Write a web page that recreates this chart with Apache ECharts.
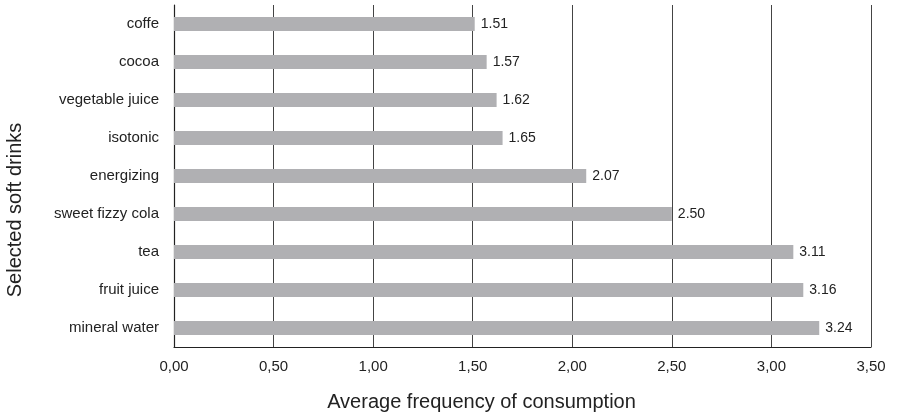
<!DOCTYPE html>
<html><head><meta charset="utf-8">
<script src="https://cdn.jsdelivr.net/npm/echarts@6/dist/echarts.min.js"></script>
<style>html,body{margin:0;padding:0;background:#fff}#c{width:897px;height:417px}</style>
</head><body><div id="c"></div>
<script>
const categories = ["mineral water","fruit juice","tea","sweet fizzy cola","energizing","isotonic","vegetable juice","cocoa","coffe"];
const values = [3.24,3.16,3.11,2.50,2.07,1.65,1.62,1.57,1.51];
const xTitle = "Average frequency of consumption";
const yTitle = "Selected soft drinks";

const chart = echarts.init(document.getElementById('c'));
const font = "'Liberation Sans', Arial, Helvetica, sans-serif";
chart.setOption({
  animation:false,
  grid:{left:174, right:26, top:5, bottom:70, containLabel:false, outerBoundsMode:'none'},
  xAxis:{
    type:'value', min:0, max:3.5, interval:0.5,
    name:xTitle, nameLocation:'middle', nameGap:45,
    nameTextStyle:{fontFamily:font,fontSize:20,color:'#222',padding:[0,82,0,0]},
    axisLine:{show:true,lineStyle:{color:'#222',width:1.2}},
    axisTick:{show:false},
    axisLabel:{fontFamily:font,fontSize:15,color:'#222',margin:12,
      formatter:v=>v.toFixed(2).replace('.',',')},
    splitLine:{show:true,lineStyle:{color:'#444',width:1}}
  },
  yAxis:{
    type:'category', data:categories,
    name:yTitle, nameLocation:'middle', nameGap:149, nameRotate:90,
    nameTextStyle:{fontFamily:font,fontSize:20,color:'#222',padding:[0,68,0,0]},
    axisLine:{show:true,lineStyle:{color:'#222',width:1.2}},
    axisTick:{show:false},
    axisLabel:{fontFamily:font,fontSize:15,color:'#222',margin:15},
    splitLine:{show:false}
  },
  series:[{
    type:'bar', data:values, barWidth:14,
    itemStyle:{color:'#b0b0b3'},
    label:{show:true, position:'right', distance:6, fontFamily:font, fontSize:14, color:'#222',
      formatter:p=>p.value.toFixed(2)}
  }]
});
</script></body></html>
